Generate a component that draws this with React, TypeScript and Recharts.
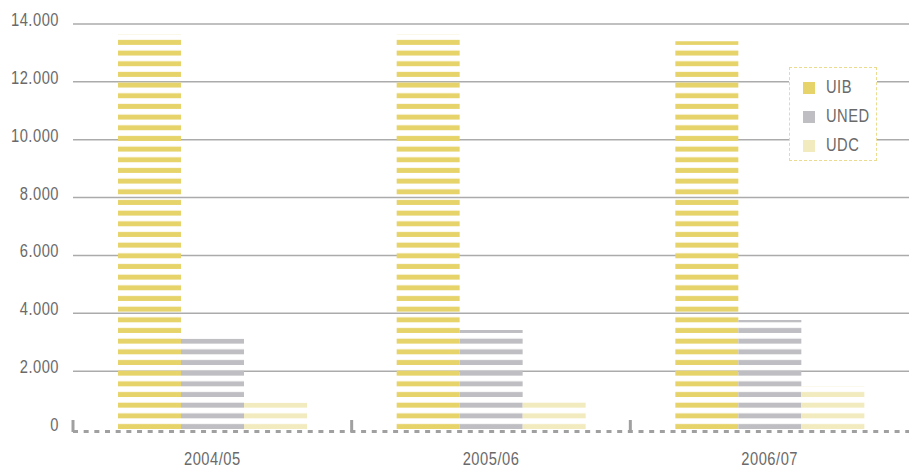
import React from 'react';
import {
  BarChart,
  Bar,
  XAxis,
  YAxis,
  CartesianGrid,
  Legend,
} from 'recharts';

// Students per academic year, by university
const years = ['2004/05', '2005/06', '2006/07'];
const uib = [13650, 13650, 13400];
const uned = [3120, 3420, 3770];
const udc = [910, 1095, 1490];
const yTicks = [0, 2000, 4000, 6000, 8000, 10000, 12000, 14000];

const series = [
  { key: 'uib', name: 'UIB', color: '#e6d36a' },
  { key: 'uned', name: 'UNED', color: '#bfbfc3' },
  { key: 'udc', name: 'UDC', color: '#f2ebbf' },
];

const data = years.map((year, i) => ({
  year,
  uib: uib[i],
  uned: uned[i],
  udc: udc[i],
}));

const FONT = "'Liberation Sans', Arial, sans-serif";
const TEXT = '#6a6a6a';
const SQUEEZE = 0.84;

const WIDTH = 909;
const HEIGHT = 467;
const PLOT_LEFT = 73;
const PLOT_TOP = 24;
const BASELINE = 431.5;
const ZERO_Y = 429;
const STRIPE = 10.67;

const formatThousands = (v: number): string =>
  v === 0 ? '0' : String(v).replace(/\B(?=(\d{3})+(?!\d))/g, '.');

// Narrow label: regular face squeezed horizontally
const NarrowText = ({ x, y, anchor, children }: any) => (
  <g transform={`translate(${x},${y}) scale(${SQUEEZE},1)`}>
    <text
      x={0}
      y={0}
      textAnchor={anchor}
      fill={TEXT}
      fontFamily={FONT}
      fontSize={17.5}
      letterSpacing={0.6}
    >
      {children}
    </text>
  </g>
);

const YTick = (props: any) => {
  const { x, y, payload } = props;
  return (
    <NarrowText x={x} y={y + 2} anchor="end">
      {formatThousands(payload.value)}
    </NarrowText>
  );
};

// Category label plus the short mark at the left edge of each category
const XTick = (props: any) => {
  const { x, y, payload } = props;
  const half = payload?.offset ?? 139;
  return (
    <g>
      <line
        x1={x - half}
        x2={x - half}
        y1={y - 11.5}
        y2={y + 0.5}
        stroke="#a0a0a0"
        strokeWidth={3}
      />
      <NarrowText x={x} y={y + 33.5} anchor="middle">
        {payload.value}
      </NarrowText>
    </g>
  );
};

const GridLine = (props: any) => {
  const { x1, x2, y1, y2 } = props;
  if (y1 > ZERO_Y - 3) return <g />;
  return <line x1={x1} x2={x2} y1={y1} y2={y2} stroke="#ababab" strokeWidth={1.5} />;
};

const LegendBox = () => (
  <div
    style={{
      position: 'relative',
      width: 88,
      height: 94,
      boxSizing: 'border-box',
      border: '1px dashed #eadb8e',
      background: '#fff',
      fontFamily: FONT,
    }}
  >
    {series.map((s, i) => (
      <div key={s.key}>
        <div
          style={{
            position: 'absolute',
            left: 13,
            top: 14 + i * 29,
            width: 12,
            height: 12,
            background: s.color,
          }}
        />
        <div
          style={{
            position: 'absolute',
            left: 36,
            top: 9 + i * 29,
            fontSize: 17.5,
            lineHeight: '20px',
            letterSpacing: 0.6,
            color: TEXT,
            transform: `scaleX(${SQUEEZE})`,
            transformOrigin: 'left center',
            whiteSpace: 'nowrap',
          }}
        >
          {s.name}
        </div>
      </div>
    ))}
  </div>
);

export default function App() {
  return (
    <div style={{ position: 'relative', width: WIDTH, height: HEIGHT, background: '#fff' }}>
      <style>{'body { margin: 0; }'}</style>
      {/* striped fills, tiled from the zero line upward */}
      <svg width={0} height={0} style={{ position: 'absolute' }}>
        <defs>
          {series.map((s) => (
            <pattern
              key={s.key}
              id={`stripe-${s.key}`}
              patternUnits="userSpaceOnUse"
              x={0}
              y={ZERO_Y - STRIPE}
              width={20}
              height={STRIPE}
            >
              <rect x={0} y={STRIPE - 5} width={20} height={5} fill={s.color} />
            </pattern>
          ))}
        </defs>
      </svg>
      <BarChart
        width={WIDTH}
        height={HEIGHT}
        data={data}
        margin={{ top: PLOT_TOP, right: 0, bottom: 0, left: 0 }}
        barGap={0}
        barSize={63}
      >
        <CartesianGrid vertical={false} horizontal={<GridLine />} />
        <YAxis
          type="number"
          domain={[0, 14000]}
          ticks={yTicks}
          width={PLOT_LEFT}
          axisLine={false}
          tickLine={false}
          tickSize={0}
          tickMargin={14}
          tick={<YTick />}
          padding={{ top: 0, bottom: BASELINE - ZERO_Y }}
          interval={0}
        />
        <XAxis
          dataKey="year"
          height={HEIGHT - BASELINE}
          tickLine={false}
          tickSize={0}
          tickMargin={0}
          tick={<XTick />}
          axisLine={{ stroke: '#a0a0a0', strokeWidth: 3, strokeDasharray: '5 5.67' }}
          interval={0}
        />
        {series.map((s) => (
          <Bar
            key={s.key}
            dataKey={s.key}
            name={s.name}
            fill={`url(#stripe-${s.key})`}
            isAnimationActive={false}
          />
        ))}
        <Legend
          layout="vertical"
          align="center"
          verticalAlign="middle"
          content={<LegendBox />}
          wrapperStyle={{ position: 'absolute', top: 67, left: 789, width: 88, height: 94 }}
        />
      </BarChart>
    </div>
  );
}
